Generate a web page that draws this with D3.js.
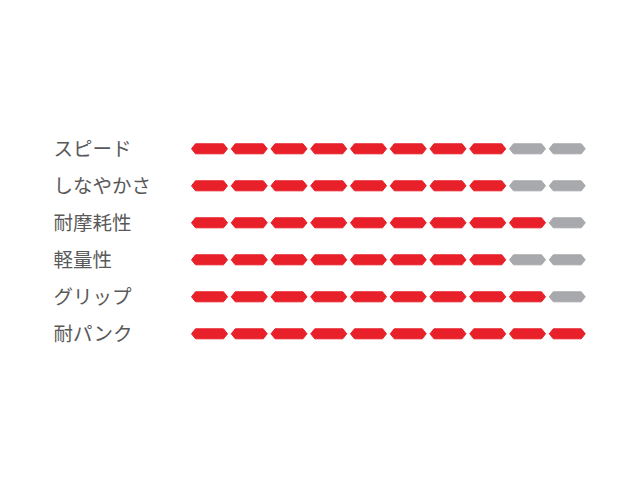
<!DOCTYPE html>
<html lang="ja">
<head>
  <meta charset="utf-8" />
  <script src="https://d3js.org/d3.v7.min.js"></script>
  <style>
    body { margin: 0; background: #fff; }
    .label {
      font-family: "Noto Sans CJK JP", sans-serif;
      font-size: 19.5px;
      fill: #595959;
    }
  </style>
</head>
<body>
  <div id="visu"></div>
  <script>
    const width = 640, height = 480;

    // 評価項目と評価値（10段階）
    const categories = ["スピード", "しなやかさ", "耐摩耗性", "軽量性", "グリップ", "耐パンク"];
    const ratings = [8, 8, 9, 8, 9, 10];
    const maxRating = 10;

    const colorOn = "#e8202a";
    const colorOff = "#a7a9ac";

    const svg = d3.select("#visu")
      .append("svg")
      .attr("width", width)
      .attr("height", height);

    const y = d3.scaleBand()
      .domain(categories)
      .range([130.3, 352.3])
      .paddingInner(0);

    const x = d3.scaleLinear()
      .domain([0, maxRating])
      .range([191, 191 + 39.75 * maxRating]);

    const segW = 36, segH = 10, tip = 4;

    // 六角形（両端がとがった形）
    function segPath(x0, cy) {
      const x1 = x0 + segW;
      return `M${x0},${cy} L${x0 + tip},${cy - segH / 2} L${x1 - tip},${cy - segH / 2}` +
        ` L${x1},${cy} L${x1 - tip},${cy + segH / 2} L${x0 + tip},${cy + segH / 2} Z`;
    }

    const rows = svg.selectAll(".row")
      .data(categories.map((c, i) => ({ name: c, value: ratings[i] })))
      .enter().append("g")
      .attr("class", "row");

    rows.append("text")
      .attr("class", "label")
      .attr("x", 53.5)
      .attr("y", d => y(d.name) + y.bandwidth() / 2)
      .attr("dy", "0.36em")
      .text(d => d.name);

    rows.selectAll(".seg")
      .data(d => d3.range(maxRating).map(i => ({ i, on: i < d.value, cy: y(d.name) + y.bandwidth() / 2 })))
      .enter().append("path")
      .attr("class", "seg")
      .attr("d", d => segPath(x(d.i) + 0.5, d.cy))
      .style("fill", d => d.on ? colorOn : colorOff)
      .style("stroke", d => d.on ? colorOn : colorOff)
      .style("stroke-width", 1)
      .style("stroke-linejoin", "round");
  </script>
</body>
</html>
